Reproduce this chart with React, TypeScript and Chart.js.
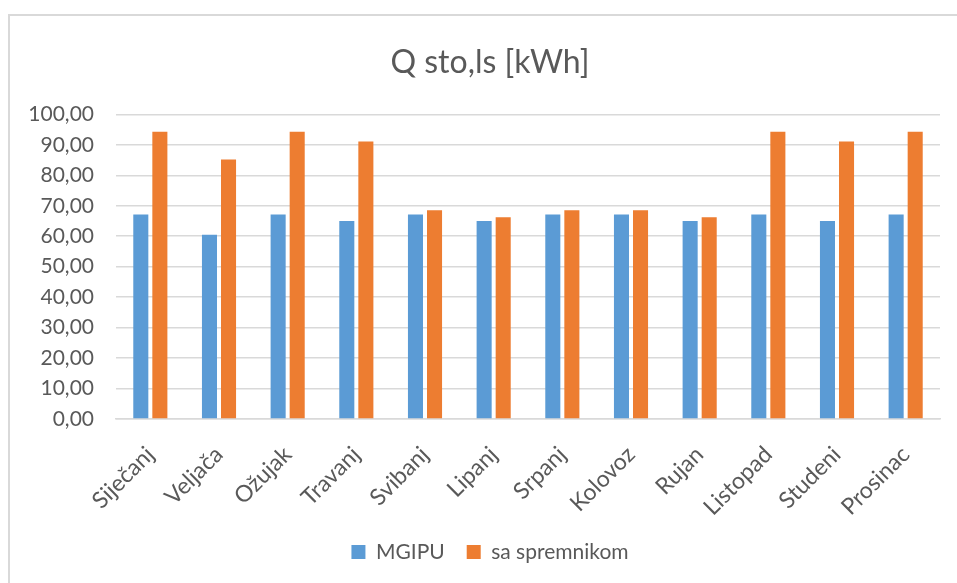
import React, { useEffect, useRef } from "react";
import { Chart, registerables } from "chart.js";

Chart.register(...registerables);

const categories = [
  "Siječanj", "Veljača", "Ožujak", "Travanj", "Svibanj", "Lipanj",
  "Srpanj", "Kolovoz", "Rujan", "Listopad", "Studeni", "Prosinac",
];
const mgipu = [67.1, 60.5, 67.1, 65.0, 67.1, 65.0, 67.1, 67.1, 65.0, 67.1, 65.0, 67.1];
const saSpremnikom = [94.3, 85.2, 94.3, 91.1, 68.5, 66.2, 68.5, 68.5, 66.2, 94.3, 91.1, 94.3];
const seriesNames = ["MGIPU", "sa spremnikom"];
const titleText = "Q sto,ls [kWh]";
const yMin = 0;
const yMax = 100;
const yStep = 10;

const FONT = "Lato, 'Open Sans', sans-serif";
const TEXT = "#595959";
const GRID = "#d9d9d9";

export default function App() {
  const ref = useRef<HTMLCanvasElement | null>(null);

  useEffect(() => {
    document.body.style.margin = "0";
    const ctx = ref.current!.getContext("2d")!;
    const chart = new Chart(ctx, {
      type: "bar",
      data: {
        labels: categories,
        datasets: [
          {
            label: seriesNames[0],
            data: mgipu,
            backgroundColor: "#5B9BD5",
            barPercentage: 0.79,
            categoryPercentage: 0.555,
            yAxisID: "y",
          },
          {
            label: seriesNames[1],
            data: saSpremnikom,
            backgroundColor: "#ED7D31",
            barPercentage: 0.79,
            categoryPercentage: 0.555,
            yAxisID: "y",
          },
        ],
      },
      options: {
        animation: false,
        responsive: false,
        maintainAspectRatio: false,
        layout: { padding: { left: 0, right: 0, top: 0, bottom: 10.5 } },
        plugins: {
          title: {
            display: true,
            text: titleText,
            color: TEXT,
            font: { family: FONT, size: 32, weight: "normal" },
            padding: { top: 43, bottom: 33 },
          },
          legend: {
            display: true,
            position: "bottom",
            labels: {
              color: TEXT,
              font: { family: FONT, size: 21 },
              boxWidth: 14,
              boxHeight: 14,
              padding: 22,
            },
          },
          tooltip: { enabled: false },
        },
        scales: {
          x: {
            afterFit: (scale: any) => {
              scale.height = 100.5;
            },
            grid: { display: false, drawTicks: false },
            border: { display: true, color: GRID, width: 1.5 },
            ticks: {
              color: TEXT,
              font: { family: FONT, size: 23 },
              maxRotation: 45,
              minRotation: 45,
              padding: 22,
            },
          },
          y: {
            position: "left",
            min: yMin,
            max: yMax,
            afterFit: (scale: any) => {
              scale.width = 116;
            },
            grid: { color: GRID, lineWidth: 1.5, drawTicks: false },
            border: { display: false },
            ticks: {
              stepSize: yStep,
              color: TEXT,
              font: { family: FONT, size: 21 },
              padding: 22,
              callback: (v: any) => Number(v).toFixed(2).replace(".", ","),
            },
          },
          yRight: {
            type: "linear",
            position: "right",
            display: true,
            min: yMin,
            max: yMax,
            afterFit: (scale: any) => {
              scale.width = 40;
            },
            grid: { display: false, drawTicks: false },
            border: { display: false },
            ticks: { display: false },
          },
        },
      },
    });
    return () => chart.destroy();
  }, []);

  return (
    <div style={{ position: "relative", width: 957, height: 583, background: "#fff", overflow: "hidden" }}>
      <div
        style={{
          position: "absolute",
          left: 8,
          top: 14,
          width: 1000,
          height: 600,
          borderLeft: `2px solid ${GRID}`,
          borderTop: `2px solid ${GRID}`,
        }}
      />
      <canvas ref={ref} width={980} height={583} style={{ position: "absolute", left: 0, top: 0 }} />
    </div>
  );
}
